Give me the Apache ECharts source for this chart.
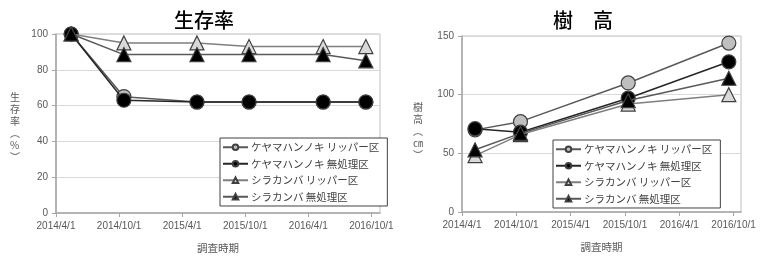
<!DOCTYPE html>
<html>
<head>
<meta charset="utf-8">
<script src="https://cdn.jsdelivr.net/npm/echarts@6/dist/echarts.min.js"></script>
<style>
  html, body { margin: 0; padding: 0; background: #fff; }
  #chart { width: 773px; height: 260px; }
</style>
</head>
<body>
<div id="chart"></div>
<script>
// 調査日 (days are counted from 2014/4/1 on a value axis)
const baseDate = "2014/4/1";
const survivalDates = ["2014/5/15", "2014/10/15", "2015/5/15", "2015/10/13", "2016/5/15", "2016/9/16"];
const heightDates = ["2014/5/15", "2014/10/15", "2015/10/13", "2016/9/16"];
const tickLabels = ["2014/4/1", "2014/10/1", "2015/4/1", "2015/10/1", "2016/4/1", "2016/10/1"];

const seriesNames = ["ケヤマハンノキ リッパー区", "ケヤマハンノキ 無処理区", "シラカンバ リッパー区", "シラカンバ 無処理区"];

// 生存率 (%)
const survKeyamaRipper = [100, 65, 62, 62, 62, 62];
const survKeyamaNone = [100, 63, 62, 62, 62, 62];
const survShiraRipper = [100, 95, 95, 93, 93, 93];
const survShiraNone = [100, 88.5, 88.5, 88.5, 88.5, 85];

// 樹高 (cm)
const hKeyamaRipper = [70, 77, 110, 144];
const hKeyamaNone = [71, 68, 97, 128];
const hShiraRipper = [48, 66, 92, 100];
const hShiraNone = [53, 67, 95, 114];

const tickDays = 183;

function dayNum(s) {
  const p = s.split("/").map(Number);
  const b = baseDate.split("/").map(Number);
  return Math.round((Date.UTC(p[0], p[1] - 1, p[2]) - Date.UTC(b[0], b[1] - 1, b[2])) / 86400000);
}
function pairs(dates, vals) {
  return dates.map((d, i) => [dayNum(d), vals[i]]);
}

const styles = [
  { symbol: "circle", fill: "#bfbfbf", line: "#595959" },
  { symbol: "circle", fill: "#000000", line: "#262626" },
  { symbol: "triangle", fill: "#d9d9d9", line: "#7f7f7f" },
  { symbol: "triangle", fill: "#000000", line: "#595959" },
];

function makeSeries(idx, gridIdx, dates, vals) {
  const st = styles[idx];
  return {
    name: seriesNames[idx],
    type: "line",
    xAxisIndex: gridIdx,
    yAxisIndex: gridIdx,
    data: pairs(dates, vals),
    symbol: st.symbol,
    symbolSize: 14,
    lineStyle: { color: st.line, width: 1.5 },
    itemStyle: { color: st.fill, borderColor: "#404040", borderWidth: 1.2 },
    animation: false,
    z: 3 + idx,
  };
}

const axisLabelStyle = { color: "#595959", fontSize: 10, fontFamily: "Liberation Sans" };

function xAxisOpt(gridIdx) {
  return {
    type: "value",
    gridIndex: gridIdx,
    min: 0,
    max: 940,
    interval: tickDays,
    name: "調査時期",
    nameLocation: "middle",
    nameGap: 30,
    nameTextStyle: { color: "#595959", fontSize: 10.5, fontFamily: "Noto Sans CJK JP" },
    axisLine: { show: true, lineStyle: { color: "#a6a6a6", width: 1.5 } },
    axisTick: { show: true, length: 4, lineStyle: { color: "#a6a6a6" } },
    axisLabel: Object.assign({}, axisLabelStyle, {
      margin: 8,
      showMaxLabel: false,
      formatter: function (v) {
        const k = Math.round(v / tickDays);
        if (Math.abs(v - k * tickDays) > 1) return "";
        return tickLabels[k] || "";
      },
    }),
    splitLine: { show: false },
  };
}

function yAxisOpt(gridIdx, max, interval) {
  return {
    type: "value",
    gridIndex: gridIdx,
    min: 0,
    max: max,
    interval: interval,
    axisLine: { show: true, lineStyle: { color: "#a6a6a6", width: 1.5 } },
    axisTick: { show: true, length: 4, lineStyle: { color: "#a6a6a6" } },
    axisLabel: Object.assign({}, axisLabelStyle, { margin: 8 }),
    splitLine: { show: true, lineStyle: { color: "#d9d9d9", width: 1 } },
  };
}

function legendOpt(left, top) {
  return {
    orient: "vertical",
    left: left,
    top: top,
    data: seriesNames,
    itemWidth: 25,
    itemHeight: 7,
    itemGap: 6,
    padding: [4, 8, 4, 2],
    borderColor: "#404040",
    borderWidth: 1,
    backgroundColor: "#ffffff",
    selectedMode: false,
    textStyle: { color: "#404040", fontSize: 10.5, fontFamily: "Noto Sans CJK JP", padding: [0, 0, 0, -2] },
  };
}

const titleFont = { color: "#000", fontSize: 20, fontWeight: 500, fontFamily: "Noto Sans CJK JP" };
const vertNameStyle = { fill: "#595959", fontSize: 10, lineHeight: 12, fontFamily: "Noto Sans CJK JP", align: "center" };

const option = {
  backgroundColor: "#ffffff",
  animation: false,
  title: [
    { text: "生存率", left: 199, top: 5, textAlign: "center", textStyle: titleFont },
    { text: "樹　高", left: 578, top: 5, textAlign: "center", textStyle: titleFont },
  ],
  graphic: [
    { type: "text", left: 10, top: 91, style: Object.assign({ text: "生\n存\n率\n︵\n%\n︶" }, vertNameStyle) },
    { type: "text", left: 413, top: 101, style: Object.assign({ text: "樹\n高\n︵\n㎝\n︶" }, vertNameStyle) },
  ],
  legend: [legendOpt(220, 138), legendOpt(553, 140)],
  grid: [
    { left: 56, right: 393, top: 34, bottom: 47, show: true, borderColor: "#bfbfbf", borderWidth: 1 },
    { left: 462, right: 32, top: 36, bottom: 48, show: true, borderColor: "#bfbfbf", borderWidth: 1 },
  ],
  xAxis: [xAxisOpt(0), xAxisOpt(1)],
  yAxis: [yAxisOpt(0, 100, 20), yAxisOpt(1, 150, 50)],
  series: [
    makeSeries(0, 0, survivalDates, survKeyamaRipper),
    makeSeries(1, 0, survivalDates, survKeyamaNone),
    makeSeries(2, 0, survivalDates, survShiraRipper),
    makeSeries(3, 0, survivalDates, survShiraNone),
    makeSeries(0, 1, heightDates, hKeyamaRipper),
    makeSeries(1, 1, heightDates, hKeyamaNone),
    makeSeries(2, 1, heightDates, hShiraRipper),
    makeSeries(3, 1, heightDates, hShiraNone),
  ],
};

const myChart = echarts.init(document.getElementById("chart"));
myChart.setOption(option);
</script>
</body>
</html>
